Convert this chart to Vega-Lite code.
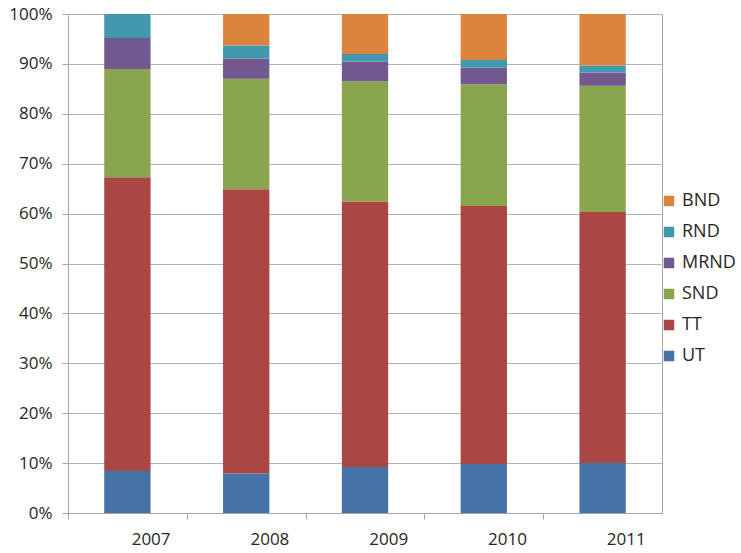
{
  "$schema": "https://vega.github.io/schema/vega-lite/v6.json",
  "autosize": {"type": "none"},
  "width": 594,
  "height": 499,
  "padding": {"left": 68, "top": 14, "right": 79, "bottom": 40},
  "background": "white",
  "config": {
    "font": "Open Sans",
    "view": {"stroke": "#a6a6a6", "strokeWidth": 1}
  },
  "data": {
    "values": [
      {"year": "2007", "cat": "UT", "o": 1, "v": 8.4},
      {"year": "2007", "cat": "TT", "o": 2, "v": 58.9},
      {"year": "2007", "cat": "SND", "o": 3, "v": 21.7},
      {"year": "2007", "cat": "MRND", "o": 4, "v": 6.2},
      {"year": "2007", "cat": "RND", "o": 5, "v": 4.8},
      {"year": "2007", "cat": "BND", "o": 6, "v": 0},
      {"year": "2008", "cat": "UT", "o": 1, "v": 7.9},
      {"year": "2008", "cat": "TT", "o": 2, "v": 57.0},
      {"year": "2008", "cat": "SND", "o": 3, "v": 22.1},
      {"year": "2008", "cat": "MRND", "o": 4, "v": 4.1},
      {"year": "2008", "cat": "RND", "o": 5, "v": 2.6},
      {"year": "2008", "cat": "BND", "o": 6, "v": 6.3},
      {"year": "2009", "cat": "UT", "o": 1, "v": 9.2},
      {"year": "2009", "cat": "TT", "o": 2, "v": 53.2},
      {"year": "2009", "cat": "SND", "o": 3, "v": 24.1},
      {"year": "2009", "cat": "MRND", "o": 4, "v": 4.0},
      {"year": "2009", "cat": "RND", "o": 5, "v": 1.5},
      {"year": "2009", "cat": "BND", "o": 6, "v": 8.0},
      {"year": "2010", "cat": "UT", "o": 1, "v": 9.8},
      {"year": "2010", "cat": "TT", "o": 2, "v": 51.7},
      {"year": "2010", "cat": "SND", "o": 3, "v": 24.4},
      {"year": "2010", "cat": "MRND", "o": 4, "v": 3.4},
      {"year": "2010", "cat": "RND", "o": 5, "v": 1.5},
      {"year": "2010", "cat": "BND", "o": 6, "v": 9.2},
      {"year": "2011", "cat": "UT", "o": 1, "v": 10.0},
      {"year": "2011", "cat": "TT", "o": 2, "v": 50.3},
      {"year": "2011", "cat": "SND", "o": 3, "v": 25.3},
      {"year": "2011", "cat": "MRND", "o": 4, "v": 2.7},
      {"year": "2011", "cat": "RND", "o": 5, "v": 1.4},
      {"year": "2011", "cat": "BND", "o": 6, "v": 10.3}
    ]
  },
  "mark": {"type": "bar"},
  "encoding": {
    "x": {
      "field": "year",
      "type": "ordinal",
      "scale": {"paddingInner": 0.61, "paddingOuter": 0.305},
      "axis": {
        "title": null,
        "labelAngle": 0,
        "labelFontSize": 17,
        "labelColor": "#262626",
        "labelPadding": 12,
        "bandPosition": 0,
        "tickOffset": -36.2,
        "labelOffset": 59.4,
        "domainColor": "#a6a6a6",
        "tickColor": "#a6a6a6",
        "tickSize": 6,
        "grid": false
      }
    },
    "y": {
      "field": "v",
      "type": "quantitative",
      "stack": "normalize",
      "scale": {"domain": [0, 1]},
      "axis": {
        "title": null,
        "format": ".0%",
        "values": [0, 0.1, 0.2, 0.3, 0.4, 0.5, 0.6, 0.7, 0.8, 0.9, 1],
        "labelFontSize": 17,
        "labelColor": "#262626",
        "labelPadding": 10,
        "domainColor": "#a6a6a6",
        "tickColor": "#a6a6a6",
        "tickSize": 6,
        "gridColor": "#b3b3b3",
        "gridWidth": 1
      }
    },
    "color": {
      "field": "cat",
      "type": "nominal",
      "scale": {
        "domain": ["BND", "RND", "MRND", "SND", "TT", "UT"],
        "range": ["#DB843D", "#4198AF", "#71588F", "#89A54E", "#AA4643", "#4572A7"]
      },
      "legend": {
        "title": null,
        "orient": "none",
        "legendX": 592,
        "legendY": 178,
        "symbolType": "square",
        "symbolSize": 110,
        "symbolStrokeWidth": 0,
        "labelFontSize": 18,
        "labelColor": "#262626",
        "labelOffset": 4,
        "rowPadding": 13
      }
    },
    "order": {"field": "o", "type": "quantitative"}
  }
}
